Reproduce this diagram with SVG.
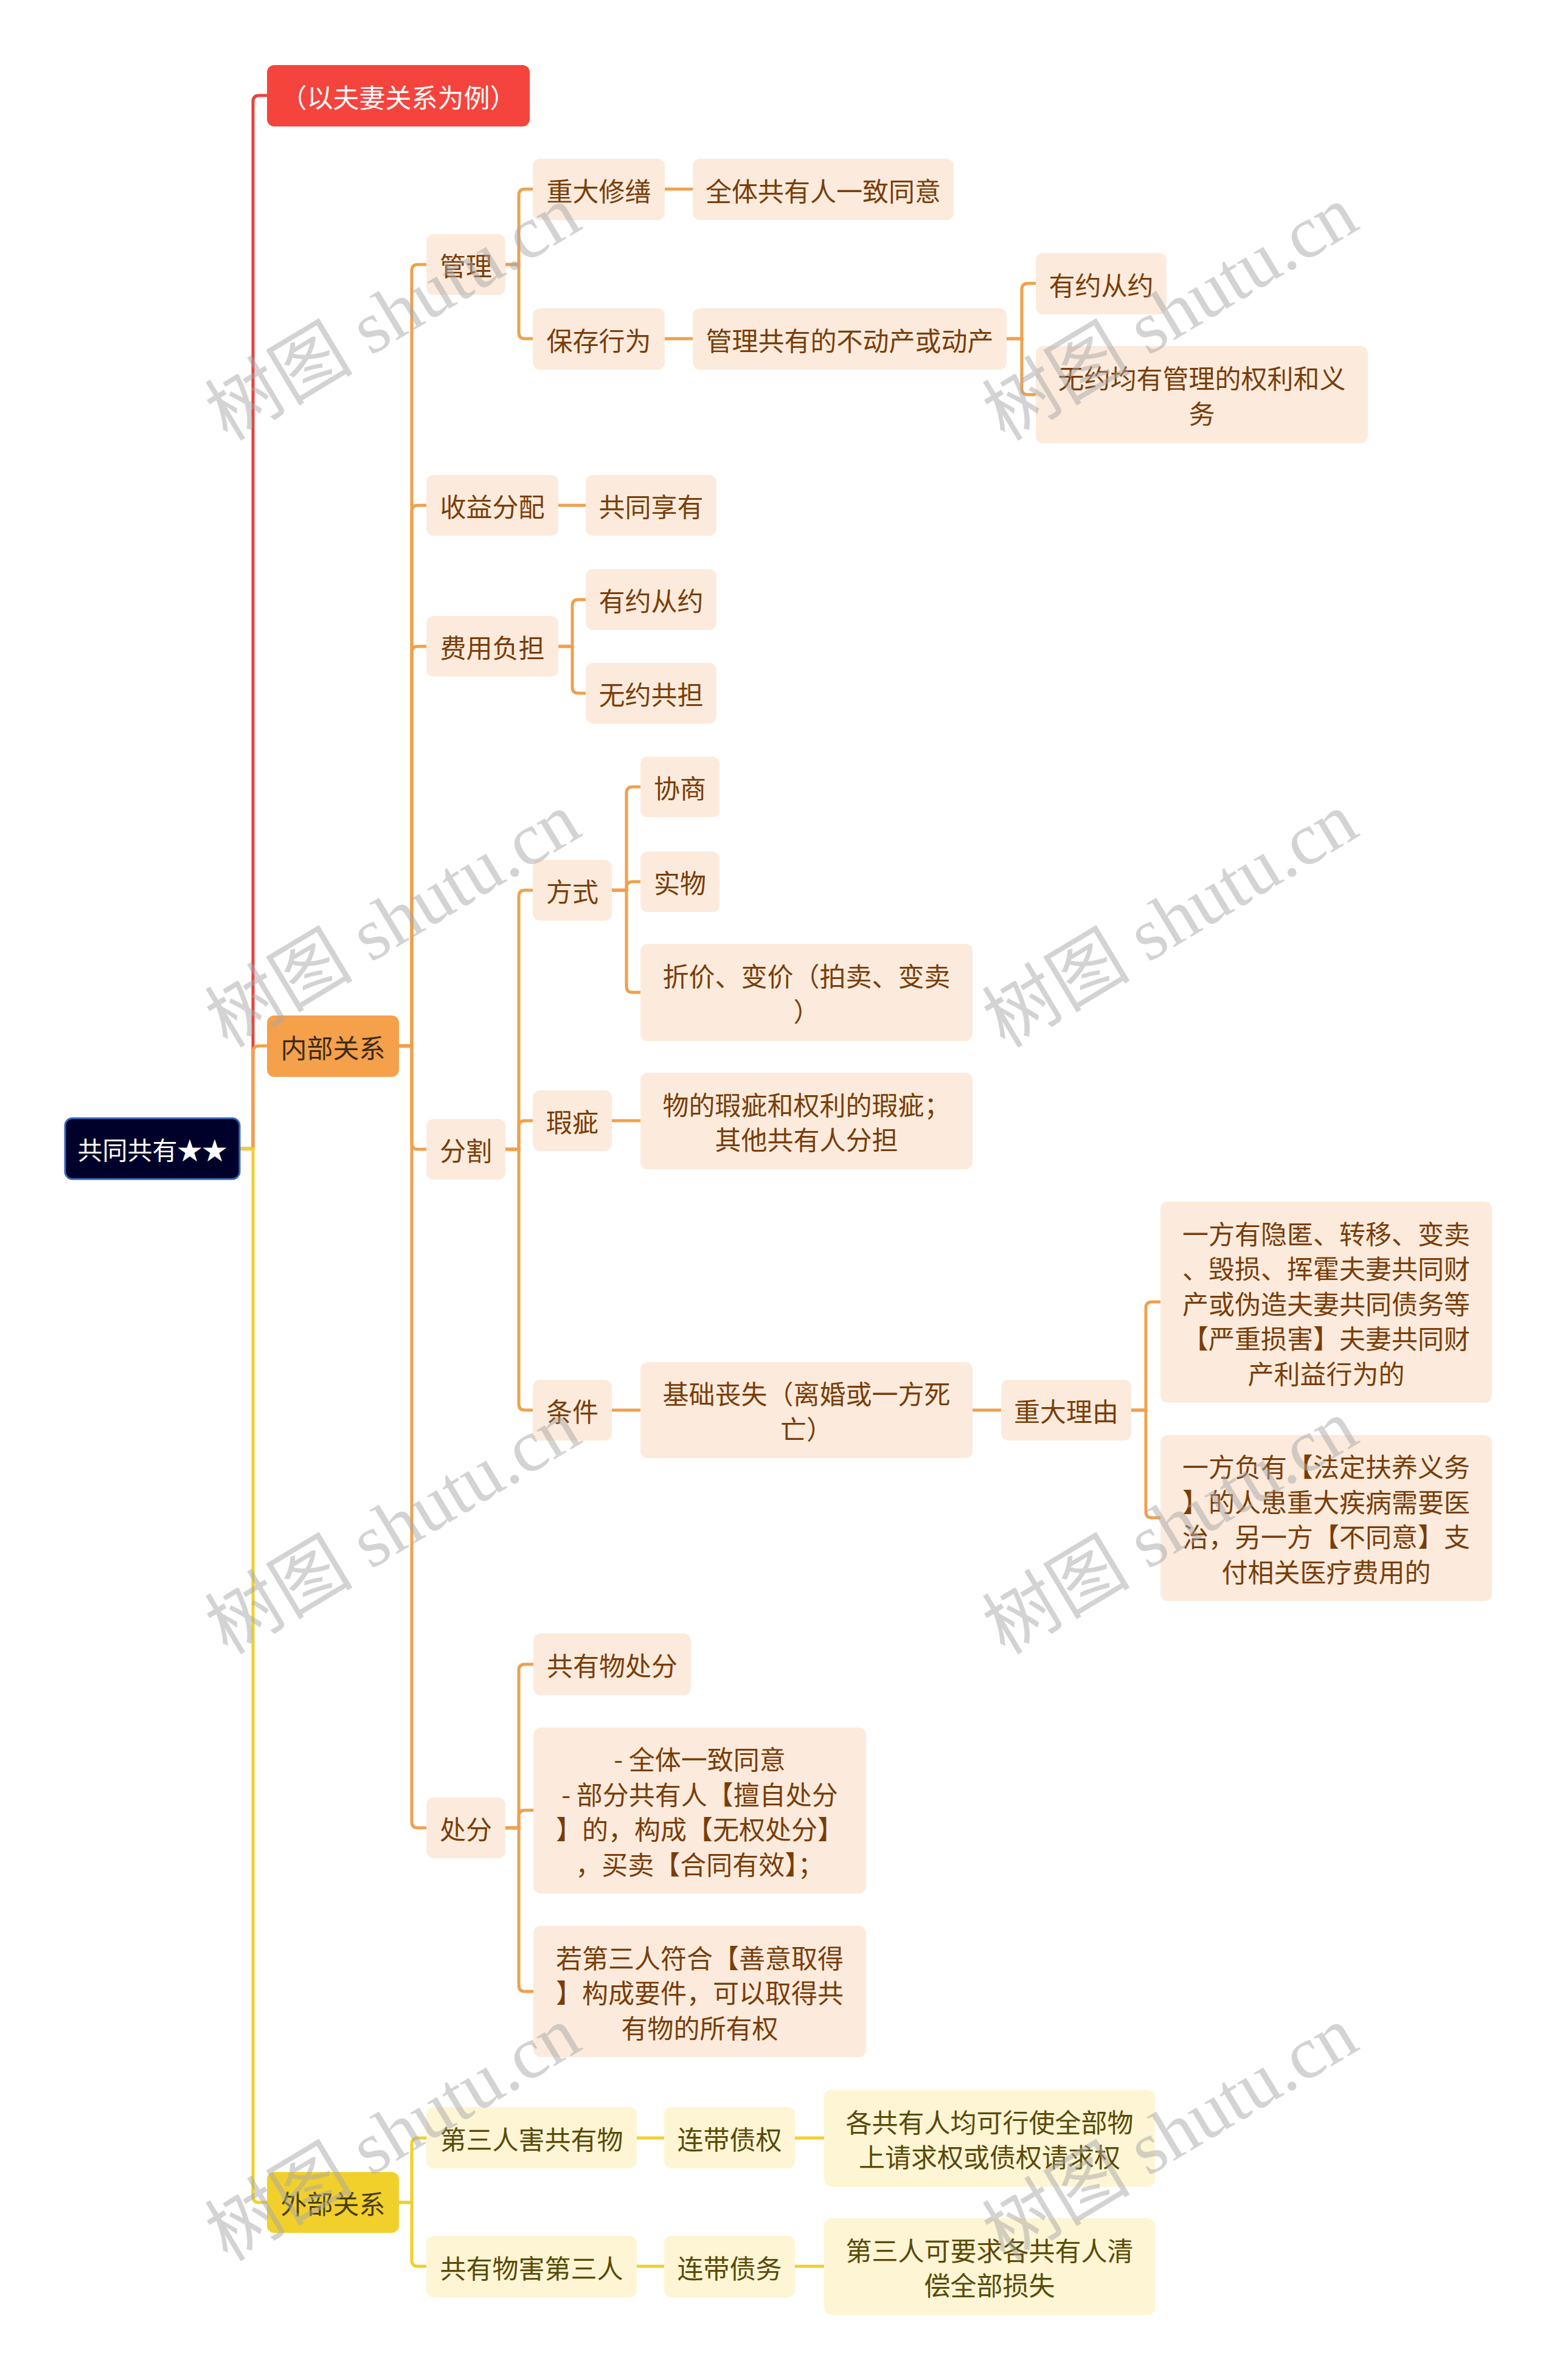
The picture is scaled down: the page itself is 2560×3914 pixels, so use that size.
<svg xmlns="http://www.w3.org/2000/svg" width="2560" height="3914" viewBox="0 0 2560 3914">
<style>
.nd rect{rx:12px;ry:12px}
.nd text{font-family:"Noto Sans CJK SC","Noto Sans",sans-serif;font-size:43px;text-anchor:middle;dominant-baseline:central}
.pe rect{fill:#fcebdc}
.pe text{fill:#7a3d0a}
.ye rect{fill:#fdf5d4}
.ye text{fill:#5a4a08}
.cn path{fill:none;stroke-width:5}
.co path{stroke:#f0a04c}
.cy path{stroke:#f0d02c}
.wm text{font-family:"Liberation Serif","Noto Sans CJK SC",serif;font-size:122px;fill:#a8a8a8;opacity:0.5;text-anchor:middle;dominant-baseline:central}
</style>
<rect width="2560" height="3914" fill="#ffffff"/>
<g id="connectors" class="cn">
<path d="M394 1889 H416 V167 Q416 157 426 157 H439" stroke="#e8423a"/>
<g class="co">
<path d="M394 1889 H416 V1730 Q416 1720 426 1720 H439"/>
<path d="M656 1720 H677 V445 Q677 435 687 435 H701"/>
<path d="M656 1720 H677 V841 Q677 831 687 831 H701"/>
<path d="M656 1720 H677 V1073 Q677 1063 687 1063 H701"/>
<path d="M656 1720 H677 V1880 Q677 1890 687 1890 H701"/>
<path d="M656 1720 H677 V2996 Q677 3006 687 3006 H701"/>
<path d="M831 435 H853 V321 Q853 311 863 311 H876"/>
<path d="M831 435 H853 V547 Q853 557 863 557 H876"/>
<path d="M1093 311 H1139"/>
<path d="M1093 557 H1139"/>
<path d="M1655 557 H1680 V476 Q1680 466 1690 466 H1703"/>
<path d="M1655 557 H1680 V639 Q1680 649 1690 649 H1703"/>
<path d="M918 831 H963"/>
<path d="M918 1063 H941 V996 Q941 986 951 986 H963"/>
<path d="M918 1063 H941 V1130 Q941 1140 951 1140 H963"/>
<path d="M831 1890 H853 V1474 Q853 1464 863 1464 H876"/>
<path d="M831 1890 H853 V1853 Q853 1843 863 1843 H876"/>
<path d="M831 1890 H853 V2309 Q853 2319 863 2319 H876"/>
<path d="M1006 1464 H1030 V1304 Q1030 1294 1040 1294 H1053"/>
<path d="M1006 1464 H1030 V1460 Q1030 1450 1040 1450 H1053"/>
<path d="M1006 1464 H1030 V1622 Q1030 1632 1040 1632 H1053"/>
<path d="M1006 1843 H1053"/>
<path d="M1006 2319 H1053"/>
<path d="M1599 2319 H1646"/>
<path d="M1860 2319 H1884 V2151 Q1884 2141 1894 2141 H1908"/>
<path d="M1860 2319 H1884 V2486 Q1884 2496 1894 2496 H1908"/>
<path d="M831 3006 H853 V2747 Q853 2737 863 2737 H877"/>
<path d="M831 3006 H853 V2987 Q853 2977 863 2977 H877"/>
<path d="M831 3006 H853 V3265 Q853 3275 863 3275 H877"/>
</g>
<g class="cy">
<path d="M394 1889 H416 V3612 Q416 3622 426 3622 H439"/>
<path d="M656 3622 H677 V3526 Q677 3516 687 3516 H701"/>
<path d="M656 3622 H677 V3717 Q677 3727 687 3727 H701"/>
<path d="M1047 3516 H1092"/>
<path d="M1307 3516 H1355"/>
<path d="M1047 3727 H1092"/>
<path d="M1307 3727 H1355"/>
</g>
</g>
<g id="root" class="nd"><rect x="107" y="1839" width="287" height="100" fill="#00012a" stroke="#3a68b8" stroke-width="3"/><text x="250.5" y="1889" fill="#ffffff" style="font-size:41px">共同共有★★</text></g>
<g id="n-example" class="nd"><rect x="439" y="107" width="432" height="101" fill="#f5443d"/><text x="655" y="157.5" fill="#ffffff">（以夫妻关系为例）</text></g>
<g id="n-internal" class="nd"><rect x="439" y="1670" width="217" height="101" fill="#f5a04b"/><text x="547.5" y="1720.5" fill="#3b2c17">内部关系</text></g>
<g id="n-external" class="nd"><rect x="439" y="3572" width="217" height="100" fill="#f2d02c"/><text x="547.5" y="3622" fill="#4a3e08">外部关系</text></g>

<g id="n-manage" class="nd pe"><rect x="701" y="385" width="130" height="100"/><text x="766" y="435">管理</text></g>
<g id="n-repair" class="nd pe"><rect x="876" y="261" width="217" height="101"/><text x="984.5" y="311.5">重大修缮</text></g>
<g id="n-repair-c" class="nd pe"><rect x="1139" y="261" width="429" height="101"/><text x="1353.5" y="311.5">全体共有人一致同意</text></g>
<g id="n-preserve" class="nd pe"><rect x="876" y="507" width="217" height="101"/><text x="984.5" y="557.5">保存行为</text></g>
<g id="n-preserve-c" class="nd pe"><rect x="1139" y="507" width="516" height="101"/><text x="1397" y="557.5">管理共有的不动产或动产</text></g>
<g id="n-agree1" class="nd pe"><rect x="1703" y="416" width="215" height="101"/><text x="1810.5" y="466.5">有约从约</text></g>
<g id="n-noagree1" class="nd pe"><rect x="1703" y="569" width="546" height="160"/><text x="1976" y="620.25">无约均有管理的权利和义</text><text x="1976" y="677.75">务</text></g>
<g id="n-income" class="nd pe"><rect x="701" y="781" width="217" height="100"/><text x="809.5" y="831">收益分配</text></g>
<g id="n-income-c" class="nd pe"><rect x="963" y="781" width="215" height="100"/><text x="1070.5" y="831">共同享有</text></g>
<g id="n-cost" class="nd pe"><rect x="701" y="1013" width="217" height="100"/><text x="809.5" y="1063">费用负担</text></g>
<g id="n-agree2" class="nd pe"><rect x="963" y="936" width="215" height="100"/><text x="1070.5" y="986">有约从约</text></g>
<g id="n-noagree2" class="nd pe"><rect x="963" y="1090" width="215" height="100"/><text x="1070.5" y="1140">无约共担</text></g>
<g id="n-split" class="nd pe"><rect x="701" y="1840" width="130" height="100"/><text x="766" y="1890">分割</text></g>
<g id="n-way" class="nd pe"><rect x="876" y="1414" width="130" height="100"/><text x="941" y="1464">方式</text></g>
<g id="n-negotiate" class="nd pe"><rect x="1053" y="1244" width="130" height="100"/><text x="1118" y="1294">协商</text></g>
<g id="n-inkind" class="nd pe"><rect x="1053" y="1400" width="130" height="100"/><text x="1118" y="1450">实物</text></g>
<g id="n-price" class="nd pe"><rect x="1053" y="1552" width="546" height="160"/><text x="1326" y="1603.25">折价、变价（拍卖、变卖</text><text x="1326" y="1660.75">）</text></g>
<g id="n-defect" class="nd pe"><rect x="876" y="1793" width="130" height="100"/><text x="941" y="1843">瑕疵</text></g>
<g id="n-defect-c" class="nd pe"><rect x="1053" y="1764" width="546" height="159"/><text x="1326" y="1814.75">物的瑕疵和权利的瑕疵；</text><text x="1326" y="1872.25">其他共有人分担</text></g>
<g id="n-cond" class="nd pe"><rect x="876" y="2269" width="130" height="100"/><text x="941" y="2319">条件</text></g>
<g id="n-basis" class="nd pe"><rect x="1053" y="2240" width="546" height="158"/><text x="1326" y="2290.25">基础丧失（离婚或一方死</text><text x="1326" y="2347.75">亡）</text></g>
<g id="n-reason" class="nd pe"><rect x="1646" y="2269" width="214" height="100"/><text x="1753" y="2319">重大理由</text></g>
<g id="n-reason1" class="nd pe"><rect x="1908" y="1976" width="545" height="331"/><text x="2180.5" y="2026.5">一方有隐匿、转移、变卖</text><text x="2180.5" y="2084">、毁损、挥霍夫妻共同财</text><text x="2180.5" y="2141.5">产或伪造夫妻共同债务等</text><text x="2180.5" y="2199">【严重损害】夫妻共同财</text><text x="2180.5" y="2256.5">产利益行为的</text></g>
<g id="n-reason2" class="nd pe"><rect x="1908" y="2360" width="545" height="273"/><text x="2180.5" y="2410.25">一方负有【法定扶养义务</text><text x="2180.5" y="2467.75">】的人患重大疾病需要医</text><text x="2180.5" y="2525.25">治，另一方【不同意】支</text><text x="2180.5" y="2582.75">付相关医疗费用的</text></g>
<g id="n-dispose" class="nd pe"><rect x="701" y="2956" width="130" height="100"/><text x="766" y="3006">处分</text></g>
<g id="n-dispose1" class="nd pe"><rect x="877" y="2686" width="259" height="102"/><text x="1006.5" y="2737">共有物处分</text></g>
<g id="n-dispose2" class="nd pe"><rect x="877" y="2841" width="547" height="273"/><text x="1150.5" y="2891.25">- 全体一致同意</text><text x="1150.5" y="2948.75">- 部分共有人【擅自处分</text><text x="1150.5" y="3006.25">】的，构成【无权处分】</text><text x="1150.5" y="3063.75">，买卖【合同有效】；</text></g>
<g id="n-dispose3" class="nd pe"><rect x="877" y="3167" width="547" height="216"/><text x="1150.5" y="3217.5">若第三人符合【善意取得</text><text x="1150.5" y="3275">】构成要件，可以取得共</text><text x="1150.5" y="3332.5">有物的所有权</text></g>
<g id="n-ext1" class="nd ye"><rect x="701" y="3465" width="346" height="101"/><text x="874" y="3515.5">第三人害共有物</text></g>
<g id="n-ext1a" class="nd ye"><rect x="1092" y="3465" width="215" height="101"/><text x="1199.5" y="3515.5">连带债权</text></g>
<g id="n-ext1b" class="nd ye"><rect x="1355" y="3437" width="544" height="159"/><text x="1627" y="3487.75">各共有人均可行使全部物</text><text x="1627" y="3545.25">上请求权或债权请求权</text></g>
<g id="n-ext2" class="nd ye"><rect x="701" y="3677" width="346" height="101"/><text x="874" y="3727.5">共有物害第三人</text></g>
<g id="n-ext2a" class="nd ye"><rect x="1092" y="3677" width="215" height="101"/><text x="1199.5" y="3727.5">连带债务</text></g>
<g id="n-ext2b" class="nd ye"><rect x="1355" y="3648" width="544" height="159"/><text x="1627" y="3698.75">第三人可要求各共有人清</text><text x="1627" y="3756.25">偿全部损失</text></g>
<g id="watermark" class="wm">
<text transform="translate(646,515) rotate(-31)">树图 shutu.cn</text>
<text transform="translate(1924,515) rotate(-31)">树图 shutu.cn</text>
<text transform="translate(646,1513) rotate(-31)">树图 shutu.cn</text>
<text transform="translate(1924,1513) rotate(-31)">树图 shutu.cn</text>
<text transform="translate(646,2511) rotate(-31)">树图 shutu.cn</text>
<text transform="translate(1924,2511) rotate(-31)">树图 shutu.cn</text>
<text transform="translate(646,3509) rotate(-31)">树图 shutu.cn</text>
<text transform="translate(1924,3509) rotate(-31)">树图 shutu.cn</text>
</g>
</svg>
